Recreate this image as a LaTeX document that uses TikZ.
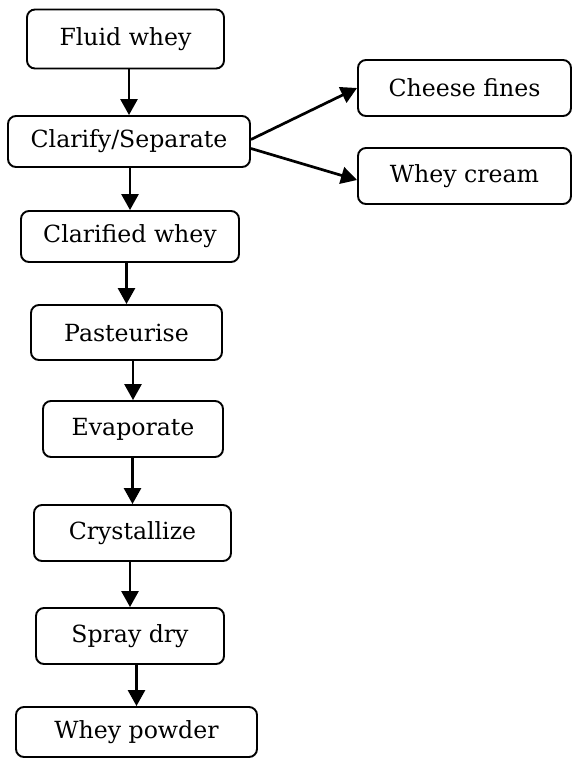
\documentclass[tikz,border=0pt]{standalone}
\usepackage{fontspec}
\setmainfont{DejaVu Serif}
\usetikzlibrary{arrows.meta,calc}

\tikzset{
  procbox/.style={draw=black, line width=0.95pt, rounded corners=4pt,
    inner sep=0pt, font=\fontsize{11.8}{14}\selectfont},
  flow/.style={line width=1.35pt, -{Triangle[width=8.5pt,length=8pt]}}
}

\begin{document}
\begin{tikzpicture}[x=0.5pt,y=-0.5pt]
  \useasboundingbox (0,0) rectangle (572,762);

  % main process column
  \node[procbox, minimum width=98.5pt, minimum height=29.5pt] (fluid)     at (125.5,39)  {Fluid whey};
  \node[procbox, minimum width=121pt,  minimum height=25.5pt] (clarify)   at (129,141.5) {Clarify/Separate};
  \node[procbox, minimum width=109pt,  minimum height=25.5pt] (clarified) at (130,236.5) {Clarified whey};
  \node[procbox, minimum width=95.5pt, minimum height=27.5pt] (past)      at (126.5,332.5) {Pasteurise};
  \node[procbox, minimum width=90pt,   minimum height=28pt]   (evap)      at (133,429)   {Evaporate};
  \node[procbox, minimum width=98.5pt, minimum height=28pt]   (cryst)     at (132.5,533) {Crystallize};
  \node[procbox, minimum width=94pt,   minimum height=28pt]   (spray)     at (130,636)   {Spray dry};
  \node[procbox, minimum width=120.5pt,minimum height=25pt]   (powder)    at (136.5,732) {Whey powder};

  % by-products of separation
  \node[procbox, minimum width=106.5pt,minimum height=28pt]   (fines)     at (464.5,88)  {Cheese fines};
  \node[procbox, minimum width=106.5pt,minimum height=28pt]   (cream)     at (464.5,176) {Whey cream};

  % vertical flow
  \foreach \a/\b in {fluid/clarify, clarify/clarified, clarified/past, past/evap,
                     evap/cryst, cryst/spray, spray/powder}
    \draw[flow] (\a.south -| \b.north) -- (\b.north);

  % branches
  \draw[flow] ([yshift=1pt]clarify.east) -- (fines.west);
  \draw[flow] ([yshift=-3.5pt]clarify.east) -- ([yshift=-2pt]cream.west);
\end{tikzpicture}
\end{document}
